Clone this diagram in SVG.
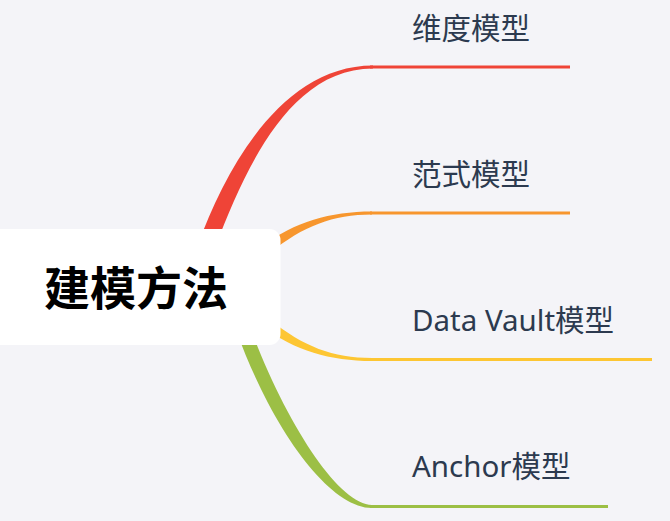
<svg xmlns="http://www.w3.org/2000/svg" width="670" height="521" viewBox="0 0 670 521">
<style>
.lbl{font-family:"Noto Sans","Noto Sans CJK SC",sans-serif;font-size:29.5px;fill:#2c3a4f}
.root{font-family:"Noto Sans CJK SC","Noto Sans",sans-serif;font-size:46px;font-weight:bold;fill:#000}
.ln{fill:none;stroke-width:3}
</style>
<rect width="670" height="521" fill="#f4f4f8"/>
<g id="connectors">
<path d="M198,245 C226,167 283,65.5 373,65.5 L373,68.5 C288,68.5 244,173 216,245 Z" fill="#ef4437"/>
<line class="ln" x1="370" y1="67" x2="570" y2="67" stroke="#ef4437"/>
<path d="M262,246 C295,222 330,211.5 372,211.5 L372,214.5 C333,214.5 303,226 270,253 Z" fill="#f7962e"/>
<line class="ln" x1="370" y1="213" x2="570" y2="213" stroke="#f7962e"/>
<path d="M262,326.5 C295,350.5 330,361 372,361 L372,358 C333,358 303,346.5 270,319.5 Z" fill="#fdc633"/>
<line class="ln" x1="370" y1="359.5" x2="652" y2="359.5" stroke="#fdc633"/>
<path d="M236,330 C273,432 330,508 372,508 L372,505 C340,505 288,428 251,330 Z" fill="#9cbf45"/>
<line class="ln" x1="370" y1="506.5" x2="608" y2="506.5" stroke="#9cbf45"/>
</g>
<g id="root">
<rect x="-12" y="229" width="292.5" height="116" rx="11" fill="#ffffff"/>
<text class="root" x="136" y="305" text-anchor="middle">建模方法</text>
</g>
<g id="n1"><text class="lbl" x="412" y="38.5">维度模型</text></g>
<g id="n2"><text class="lbl" x="412" y="184.5">范式模型</text></g>
<g id="n3"><text class="lbl" x="412" y="330.5">Data Vault模型</text></g>
<g id="n4"><text class="lbl" x="412" y="476.5">Anchor模型</text></g>
</svg>
